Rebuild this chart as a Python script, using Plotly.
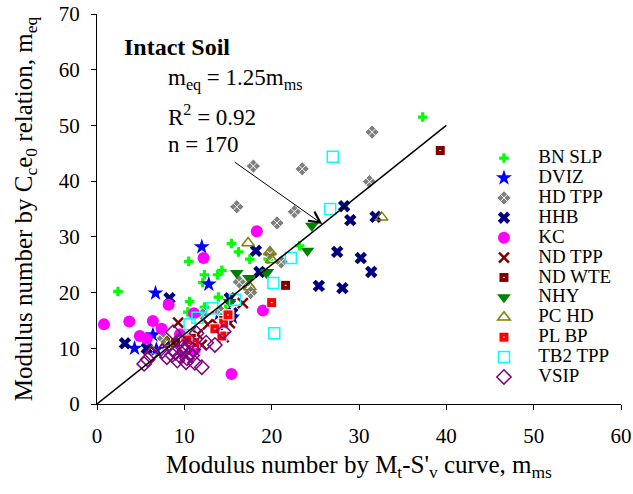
import plotly.graph_objects as go

FONT = "Liberation Serif, Times New Roman, Tinos, DejaVu Serif, serif"

bn_slp_x = [37.3, 2.4, 10.5, 12.3, 12.1, 13.8, 14.3, 15.4, 16.2, 17.5, 13.9, 10.6, 12.3, 10.4, 23.2, 19.6, 14.7, 15.3]
bn_slp_y = [51.5, 20.2, 25.6, 23.2, 21.8, 23.2, 24.0, 28.8, 27.3, 26.0, 19.2, 18.4, 17.4, 16.5, 28.4, 26.0, 17.0, 15.5]

dviz_x = [12.0, 12.8, 6.7, 4.3, 6.4, 6.8, 8.0, 15.5, 14.0]
dviz_y = [28.2, 21.5, 19.9, 10.0, 12.4, 9.8, 11.0, 15.6, 16.2]

hd_tpp_x = [31.5, 17.9, 23.5, 31.2, 16.0, 22.6, 20.6, 21.1, 16.3, 17.3, 17.6, 12.1, 7.6, 14.2, 19.8]
hd_tpp_y = [48.8, 42.7, 42.2, 39.9, 35.4, 34.5, 32.5, 25.5, 21.9, 21.0, 20.0, 16.0, 11.8, 16.5, 27.0]

hhb_x = [28.3, 29.0, 31.9, 27.5, 30.2, 31.4, 25.4, 28.1, 18.2, 18.6, 8.3, 3.2, 5.7, 15.2, 15.5]
hhb_y = [35.5, 33.0, 33.6, 27.3, 26.2, 23.7, 21.2, 20.8, 27.5, 23.7, 19.0, 10.9, 10.0, 19.0, 16.3]

kc_x = [12.2, 18.3, 8.2, 0.8, 3.7, 6.4, 7.4, 4.9, 5.7, 11.1, 15.4, 19.0, 11.2, 9.5]
kc_y = [26.2, 31.0, 17.8, 14.3, 14.8, 14.9, 13.5, 12.2, 11.7, 16.3, 5.4, 16.8, 9.8, 12.5]

nd_tpp_x = [9.3, 12.0, 16.7, 13.8, 12.7, 10.0, 11.5, 14.5, 15.2, 8.5]
nd_tpp_y = [14.6, 10.6, 18.1, 14.2, 14.3, 11.0, 12.5, 12.0, 14.5, 11.2]

nd_wte_x = [39.3, 21.6, 15.1, 14.5, 9.0, 10.8]
nd_wte_y = [45.5, 21.3, 16.0, 15.0, 11.0, 11.8]

nhy_x = [24.6, 24.1, 19.5, 16.0, 17.4, 19.4, 15.2]
nhy_y = [32.0, 27.5, 23.7, 23.5, 22.6, 23.5, 18.3]

pc_hd_x = [32.6, 17.3, 19.8, 20.0, 17.5, 6.3, 8.0]
pc_hd_y = [33.5, 28.9, 27.3, 25.9, 21.0, 9.5, 11.0]

pl_bp_x = [20.0, 14.5, 14.3, 11.2, 10.3, 13.5, 15.0]
pl_bp_y = [18.2, 14.5, 12.2, 11.0, 11.5, 13.5, 16.0]

tb2_tpp_x = [27.0, 26.7, 22.2, 20.2, 13.2, 15.8, 10.6, 20.3, 11.5]
tb2_tpp_y = [44.4, 35.0, 26.2, 21.7, 17.2, 18.7, 14.3, 12.7, 15.5]

vsip_x = [5.4, 5.8, 8.7, 11.4, 13.5, 12.0, 8.0, 8.6, 9.0, 9.5, 10.0, 10.3, 10.6, 10.9, 11.2,
          9.8, 10.4, 9.2, 7.5, 11.0, 12.5, 6.2, 10.2, 9.6, 14.5]
vsip_y = [7.2, 8.0, 12.9, 12.7, 10.6, 6.6, 8.4, 8.8, 9.2, 8.6, 9.5, 8.2, 9.0, 8.7, 7.4,
          10.2, 10.5, 7.8, 9.5, 9.8, 11.0, 9.0, 7.5, 11.3, 13.0]

fit_slope = 1.25
fit_x = [0, 40]
fit_y = [fit_slope * v for v in fit_x]

series = [
    ("BN SLP", bn_slp_x, bn_slp_y, dict(symbol="cross", size=8, color="#00FF00")),
    ("DVIZ", dviz_x, dviz_y, dict(symbol="star", size=12, color="#0000FF")),
    ("HD TPP", hd_tpp_x, hd_tpp_y, dict(symbol="diamond-x", size=11, color="#7F7F7F",
                                         line=dict(color="white", width=1))),
    ("HHB", hhb_x, hhb_y, dict(symbol="x", size=11, color="#000080")),
    ("KC", kc_x, kc_y, dict(symbol="circle", size=12, color="#FF00FF")),
    ("ND TPP", nd_tpp_x, nd_tpp_y, dict(symbol="x-thin-open", size=10, color="#800000",
                                         line=dict(color="#800000", width=2.5))),
    ("ND WTE", nd_wte_x, nd_wte_y, dict(symbol="square-dot", size=10, color="#800000",
                                         line=dict(color="white", width=1))),
    ("NHY", nhy_x, nhy_y, dict(symbol="triangle-down", size=12, color="#008000")),
    ("PC HD", pc_hd_x, pc_hd_y, dict(symbol="triangle-up-open", size=11, color="#808000",
                                      line=dict(color="#808000", width=1.5))),
    ("PL BP", pl_bp_x, pl_bp_y, dict(symbol="square-dot", size=10, color="#FF0000",
                                      line=dict(color="white", width=1))),
    ("TB2 TPP", tb2_tpp_x, tb2_tpp_y, dict(symbol="square-open", size=11, color="#00FFFF",
                                            line=dict(color="#00FFFF", width=1.5))),
    ("VSIP", vsip_x, vsip_y, dict(symbol="diamond-open", size=11, color="#800080",
                                   line=dict(color="#800080", width=1.5))),
]

NB = "\u00a0" * 3
fig = go.Figure()
for name, xs, ys, mk in series:
    fig.add_trace(go.Scatter(x=xs, y=ys, mode="markers",
                             name='<span style="font-size:19px">' + NB + name + '</span>',
                             marker=mk))

fig.add_trace(go.Scatter(x=fit_x, y=fit_y, mode="lines", line=dict(color="black", width=1.5),
                         showlegend=False, hoverinfo="skip"))

axis_common = dict(showgrid=False, zeroline=False, showline=True, linecolor="black",
                   linewidth=1, ticks="outside", ticklen=5, tickcolor="black",
                   tickfont=dict(family=FONT, size=21, color="black"), dtick=10,
                   automargin=False, ticklabeloverflow="allow")

fig.update_layout(
    width=633, height=494,
    margin=dict(l=97, r=12, t=14, b=90),
    paper_bgcolor="white", plot_bgcolor="white",
    font=dict(family=FONT, color="black"),
    xaxis=dict(range=[0, 60], ticklabelstandoff=8,
               title=dict(text="Modulus number by M<sub>t</sub>-S'<sub>v</sub> curve, m<sub>ms</sub>",
                          font=dict(family=FONT, size=25), standoff=8), **axis_common),
    yaxis=dict(range=[0, 70], ticklabelstandoff=7,
               title=dict(text="Modulus number by C<sub>c</sub>e<sub>0</sub> relation, m<sub>eq</sub>",
                          font=dict(family=FONT, size=25), standoff=19), **axis_common),
    legend=dict(x=0.7385, y=0.669, xanchor="left", yanchor="top", bgcolor="rgba(0,0,0,0)",
                font=dict(family=FONT, size=13, color="black"), itemsizing="trace"),
    annotations=[
        dict(x=2.9, y=64.1, xref="x", yref="y", text="<b>Intact Soil</b>", showarrow=False,
             xanchor="left", yanchor="middle", font=dict(family=FONT, size=24)),
        dict(x=7.9, y=58.3, xref="x", yref="y", text="m<sub>eq</sub> = 1.25m<sub>ms</sub>",
             showarrow=False, xanchor="left", yanchor="middle", font=dict(family=FONT, size=23)),
        dict(x=7.9, y=51.8, xref="x", yref="y", text="R<sup>2</sup> = 0.92",
             showarrow=False, xanchor="left", yanchor="middle", font=dict(family=FONT, size=23)),
        dict(x=7.9, y=46.6, xref="x", yref="y", text="n = 170",
             showarrow=False, xanchor="left", yanchor="middle", font=dict(family=FONT, size=23)),
        dict(x=25.8, y=32.3, ax=15.6, ay=43.6, xref="x", yref="y", axref="x", ayref="y",
             text="", showarrow=True, arrowhead=5, arrowsize=2.2, arrowwidth=1, arrowcolor="black"),
    ],
)

# remove the page's default 8px body margin so the 633x494 figure fills the window exactly
fig.write_html("out.html", config={"displayModeBar": False},
               post_script="document.body.style.margin='0px';")
